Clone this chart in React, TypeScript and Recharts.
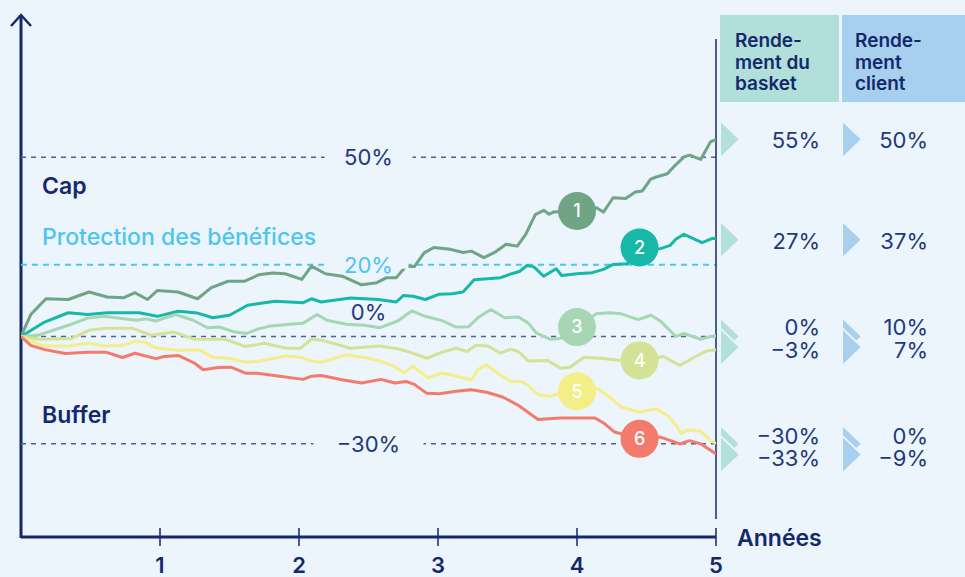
import React from 'react';
import { LineChart, Line, XAxis, YAxis, ReferenceLine, ReferenceDot } from 'recharts';

// ---------- data ----------
const series1: [number, number][] = [[0,0],[0.07,6.1],[0.18,10.5],[0.34,10.3],[0.49,12.4],[0.62,11.0],[0.74,10.8],[0.82,12.2],[0.91,10.3],[0.98,12.8],[1.13,12.4],[1.27,10.5],[1.37,13.6],[1.49,15.4],[1.61,15.4],[1.71,17.2],[1.81,17.7],[1.9,17.5],[2.02,15.9],[2.09,19.6],[2.19,17.5],[2.31,16.8],[2.45,14.4],[2.56,15.0],[2.63,16.4],[2.7,16.4],[2.77,19.6],[2.83,19.5],[2.9,23.3],[2.97,24.8],[3.09,24.3],[3.18,23.4],[3.24,23.8],[3.33,22.0],[3.41,23.5],[3.49,25.7],[3.57,25.2],[3.63,28.4],[3.7,34.0],[3.76,35.2],[3.8,34.1],[3.83,34.7],[4.0,35.0],[4.14,35.9],[4.19,34.7],[4.26,38.7],[4.35,38.5],[4.42,40.3],[4.47,40.6],[4.53,43.9],[4.57,44.5],[4.65,45.4],[4.69,47.1],[4.77,50.1],[4.81,50.6],[4.89,49.4],[4.96,54.3],[5,55]];
const series2: [number, number][] = [[0,0],[0.17,4.0],[0.34,6.6],[0.48,6.1],[0.62,6.6],[0.85,6.6],[0.98,5.6],[1.13,7.0],[1.27,6.5],[1.38,5.2],[1.5,5.9],[1.63,8.7],[1.7,9.1],[1.83,9.8],[2.03,9.4],[2.09,10.5],[2.16,9.6],[2.37,10.7],[2.57,10.3],[2.7,9.6],[2.75,11.4],[2.82,11.2],[2.91,10.3],[3.01,11.8],[3.1,11.9],[3.18,12.4],[3.26,15.8],[3.45,16.4],[3.53,17.5],[3.59,18.2],[3.64,19.8],[3.69,19.4],[3.76,16.8],[3.85,18.9],[3.89,17.0],[4.0,17.5],[4.11,17.8],[4.19,18.7],[4.26,20.1],[4.36,20.3],[4.45,23.5],[4.6,24.5],[4.67,25.4],[4.71,27.1],[4.77,28.5],[4.9,26.2],[4.97,27.3],[5,27.3]];
const series3: [number, number][] = [[0,0],[0.12,0.3],[0.34,3.1],[0.48,5.1],[0.6,5.6],[0.74,4.9],[0.83,4.5],[0.9,4.9],[0.97,4.3],[1.11,6.1],[1.24,4.5],[1.34,2.4],[1.43,2.6],[1.54,1.2],[1.62,0.8],[1.7,2.0],[1.78,2.8],[1.93,3.4],[2.03,3.7],[2.13,6.1],[2.2,4.5],[2.34,3.4],[2.47,3.1],[2.58,2.4],[2.71,4.3],[2.81,7.1],[2.9,5.7],[3.03,4.4],[3.13,2.6],[3.22,2.7],[3.29,5.3],[3.38,7.5],[3.48,5.2],[3.58,5.4],[3.65,3.7],[3.71,0.9],[3.81,-0.8],[3.88,-0.6],[4.0,2.6],[4.14,6.3],[4.23,6.6],[4.32,6.3],[4.44,4.7],[4.53,5.9],[4.6,4.3],[4.71,0.0],[4.77,0.8],[4.89,-0.8],[4.96,0.0],[5,0.1]];
const series4: [number, number][] = [[0,0],[0.14,-0.8],[0.36,-0.6],[0.49,1.7],[0.61,2.3],[0.8,2.3],[0.94,0.3],[1.1,1.2],[1.25,-0.8],[1.47,-0.8],[1.61,-2.8],[1.7,-2.3],[1.75,-1.9],[1.91,-3.3],[2.01,-3.3],[2.09,-0.8],[2.17,-1.1],[2.37,-3.3],[2.58,-2.7],[2.7,-3.4],[2.79,-4.3],[2.92,-6.1],[3.03,-4.4],[3.13,-3.3],[3.21,-4.2],[3.27,-2.5],[3.36,-2.7],[3.45,-4.7],[3.52,-3.6],[3.58,-4.2],[3.65,-6.9],[3.79,-6.7],[3.88,-8.9],[3.95,-8.6],[4.05,-5.8],[4.19,-6.2],[4.31,-6.7],[4.45,-6.7],[4.62,-5.6],[4.74,-8.1],[4.84,-5.9],[4.93,-4.1],[5,-3.7]];
const series5: [number, number][] = [[0,0],[0.16,-2.7],[0.34,-2.7],[0.48,-1.9],[0.61,-2.7],[0.74,-2.5],[0.82,-1.3],[0.89,-1.6],[0.97,-3.2],[1.13,-3.9],[1.28,-3.7],[1.38,-5.8],[1.5,-6.1],[1.62,-7.2],[1.7,-7.0],[1.77,-6.5],[1.9,-5.5],[2.02,-5.9],[2.09,-6.9],[2.16,-7.3],[2.34,-5.1],[2.47,-5.9],[2.57,-6.7],[2.67,-8.1],[2.76,-10.1],[2.82,-8.3],[2.93,-11.6],[3.03,-10.2],[3.24,-12.1],[3.29,-9.2],[3.35,-7.9],[3.42,-10.0],[3.52,-12.5],[3.6,-12.6],[3.65,-13.7],[3.72,-16.3],[3.81,-16.7],[3.88,-15.8],[4.0,-15.3],[4.15,-14.6],[4.21,-16.2],[4.32,-19.7],[4.45,-21.1],[4.57,-20.2],[4.65,-22.1],[4.71,-24.6],[4.75,-27.2],[4.79,-26.1],[4.89,-26.5],[4.95,-28.6],[5,-30]];
const series6: [number, number][] = [[0,0],[0.07,-2.5],[0.17,-3.7],[0.32,-4.8],[0.48,-4.4],[0.61,-4.4],[0.73,-5.9],[0.82,-4.7],[0.97,-6.2],[1.03,-5.6],[1.13,-5.3],[1.25,-7.5],[1.31,-9.3],[1.42,-8.7],[1.51,-8.6],[1.62,-10.3],[1.7,-10.3],[1.78,-10.7],[2.03,-12.0],[2.09,-11.1],[2.16,-10.9],[2.31,-12.1],[2.45,-13.0],[2.59,-12.0],[2.69,-13.0],[2.77,-12.6],[2.83,-13.4],[2.92,-15.9],[3.01,-16.0],[3.13,-15.3],[3.24,-14.9],[3.35,-15.6],[3.47,-17.0],[3.58,-19.3],[3.72,-23.2],[3.88,-22.8],[4.13,-22.8],[4.2,-24.4],[4.27,-26.7],[4.45,-28.6],[4.6,-28.1],[4.74,-30.0],[4.81,-29.1],[4.89,-30.0],[5,-32.8]];

const seriesList = [series1, series2, series3, series4, series5, series6];
const seriesColors = ['#6FA584', '#17B8A8', '#A6D6B4', '#D4E296', '#F4EE88', '#F37B6C'];

const markerLabels = ['1', '2', '3', '4', '5', '6'];
const markerX = [4.0, 4.45, 4.0, 4.45, 4.0, 4.45];
const markerY = [35, 24.8, 2.6, -6.7, -15.3, -28.6];

const xTicks = [1, 2, 3, 4, 5];
const levelLines = [50, 20, 0, -30];
const levelLabels = ['50%', '20%', '0%', '−30%'];

const basketReturns = ['55%', '27%', '0%', '−3%', '−30%', '−33%'];
const basketValues = [55, 27, 0, -3, -30, -33];
const clientReturns = ['50%', '37%', '10%', '7%', '0%', '−9%'];

// ---------- layout / styles ----------
const BG = '#ECF4FC';
const NAVY = '#13296B';
const TEXT = '#1E3A7A';
const DASH = '#4A6296';
const LIGHTBLUE = '#4CC6EE';
const FONT = 'Inter, "Noto Sans", sans-serif';
const rowTextOffsets = [1, 1, -9, 3, -8, 3];
const levelGapWidths = [88, 80, 0, 110];

const toData = (s: [number, number][]) => s.map(([x, y]) => ({ x, y }));

const XTick = (props: any) => {
  const { x, y, payload } = props;
  return (
    <g>
      <line x1={x} x2={x} y1={y - 9} y2={y + 9} stroke={NAVY} strokeWidth={1.5} />
      <text x={x} y={y + 36} textAnchor="middle" fontSize={22} fontWeight={600} fill={NAVY} fontFamily={FONT}>
        {payload.value}
      </text>
    </g>
  );
};

const levelLabelShape = (i: number) => (props: any) => {
  const { cx, cy } = props;
  const color = i === 1 ? LIGHTBLUE : TEXT;
  const w = levelGapWidths[i];
  const baseline = i === 2 ? cy - 16 : cy + 8;
  return (
    <g>
      {w > 0 && <rect x={cx - w / 2} y={cy - 4} width={w} height={8} fill={BG} />}
      <text x={cx} y={baseline} textAnchor="middle" fontSize={22} fontWeight={400} fill={color} fontFamily={FONT}>
        {levelLabels[i]}
      </text>
    </g>
  );
};

const rowShape = (i: number) => (props: any) => {
  const { cx, cy } = props;
  const ty = cy + rowTextOffsets[i] + 8;
  return (
    <g>
      <polygon points={`${cx + 4},${cy - 19} ${cx + 24},${cy} ${cx + 4},${cy + 19}`} fill="#B3E0DA" stroke={BG} strokeWidth={2} />
      <polygon points={`${cx + 126},${cy - 19} ${cx + 146},${cy} ${cx + 126},${cy + 19}`} fill="#A8CFEE" stroke={BG} strokeWidth={2} />
      <text x={cx + 104} y={ty} textAnchor="end" fontSize={22} fontWeight={400} fill={TEXT} fontFamily={FONT}>
        {basketReturns[i]}
      </text>
      <text x={cx + 212} y={ty} textAnchor="end" fontSize={22} fontWeight={400} fill={TEXT} fontFamily={FONT}>
        {clientReturns[i]}
      </text>
    </g>
  );
};

const arrowShape = (props: any) => {
  const { cx, cy } = props;
  return (
    <polyline points={`${cx - 10},${cy + 12} ${cx},${cy + 1} ${cx + 10},${cy + 12}`} fill="none" stroke={NAVY} strokeWidth={2.5} />
  );
};

export default function App() {
  return (
    <div style={{ position: 'absolute', left: 0, top: 0, width: 965, height: 577, background: BG, fontFamily: FONT }}>
      <LineChart width={965} height={577} margin={{ top: 14, right: 249, bottom: 0, left: 21 }}>
        <XAxis
          type="number"
          dataKey="x"
          domain={[0, 5]}
          ticks={xTicks}
          allowDataOverflow
          height={40}
          tickSize={0}
          tickMargin={0}
          tickLine={false}
          axisLine={{ stroke: NAVY, strokeWidth: 3 }}
          tick={<XTick />}
          interval={0}
        />
        <YAxis
          type="number"
          domain={[-56, 90]}
          allowDataOverflow
          width={0}
          tick={false}
          tickLine={false}
          axisLine={false}
        />
        <ReferenceLine segment={[{ x: 0, y: -56.3 }, { x: 0, y: 89.7 }]} stroke={NAVY} strokeWidth={3} ifOverflow="visible" />
        <ReferenceLine y={50} stroke={DASH} strokeWidth={1.5} strokeDasharray="5 5" />
        <ReferenceLine y={20} stroke={LIGHTBLUE} strokeWidth={2} strokeDasharray="6 5" />
        <ReferenceLine y={0} stroke={DASH} strokeWidth={1.5} strokeDasharray="5 5" />
        <ReferenceLine y={-30} stroke={DASH} strokeWidth={1.5} strokeDasharray="5 5" />
        <ReferenceLine segment={[{ x: 5, y: 83 }, { x: 5, y: -51 }]} stroke={NAVY} strokeWidth={1.5} ifOverflow="visible" />
        {levelLines.map((v, i) => (
          <ReferenceDot key={'lv' + i} x={2.5} y={v} r={1} ifOverflow="visible" shape={levelLabelShape(i)} />
        ))}
        {seriesList.map((s, i) => (
          <Line
            key={'s' + i}
            data={toData(s)}
            dataKey="y"
            type="linear"
            stroke={seriesColors[i]}
            strokeWidth={3}
            dot={false}
            activeDot={false}
            isAnimationActive={false}
            strokeLinejoin="round"
          />
        ))}
        {markerLabels.map((lab, i) => (
          <ReferenceDot
            key={'m' + i}
            x={markerX[i]}
            y={markerY[i]}
            r={19}
            fill={seriesColors[i]}
            stroke="none"
            ifOverflow="visible"
            label={{ value: lab, position: 'center', fill: '#FFFFFF', fontSize: 18, fontWeight: 500, fontFamily: FONT }}
          />
        ))}
        {basketValues.map((v, i) => (
          <ReferenceDot key={'r' + i} x={5} y={v} r={1} ifOverflow="visible" shape={rowShape(i)} />
        ))}
        <ReferenceDot x={0} y={90} r={1} ifOverflow="visible" shape={arrowShape} />
      </LineChart>
      <svg width={965} height={577} style={{ position: 'absolute', left: 0, top: 0, pointerEvents: 'none' }}>
        <text x={42} y={194} fontSize={23} fontWeight={600} fill={NAVY} fontFamily={FONT}>Cap</text>
        <text x={42} y={245} fontSize={23} fontWeight={500} fill={LIGHTBLUE} fontFamily={FONT}>Protection des bénéfices</text>
        <text x={42} y={423} fontSize={23} fontWeight={600} fill={NAVY} fontFamily={FONT}>Buffer</text>
        <text x={737} y={546} fontSize={23} fontWeight={600} fill={NAVY} fontFamily={FONT}>Années</text>
        <rect x={720} y={15} width={119} height={87} fill="#B2DFDA" />
        <rect x={842} y={15} width={123} height={87} fill="#A9CFEE" />
        <g fontSize={19} fontWeight={600} fill={NAVY} fontFamily={FONT}>
          <text x={735} y={47}>Rende-</text>
          <text x={735} y={69}>ment du</text>
          <text x={735} y={90}>basket</text>
          <text x={855} y={47}>Rende-</text>
          <text x={855} y={69}>ment</text>
          <text x={855} y={90}>client</text>
        </g>
      </svg>
    </div>
  );
}
